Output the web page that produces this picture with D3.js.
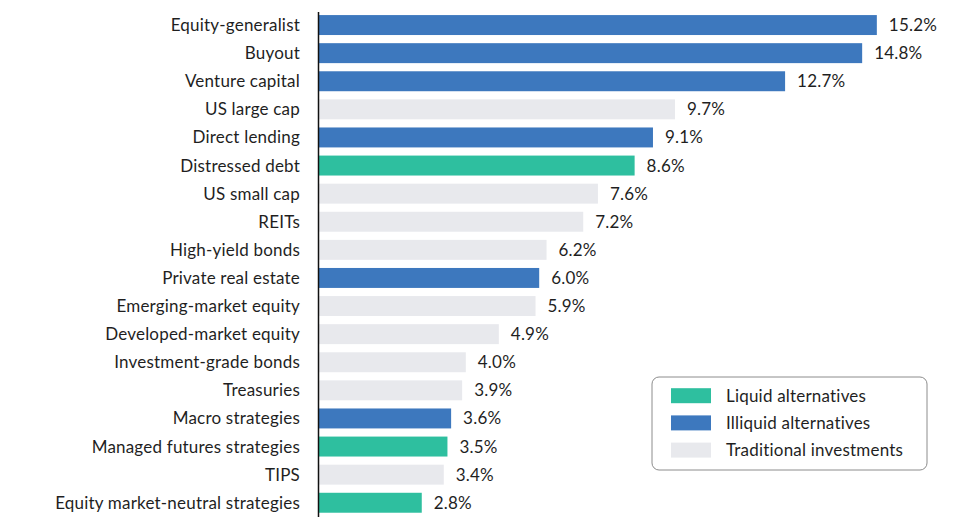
<!DOCTYPE html>
<html>
<head>
<meta charset="utf-8">
<script src="https://cdn.jsdelivr.net/npm/d3@7"></script>
<style>
  body { margin: 0; background: #fff; }
  text { font-family: Lato, "Noto Sans", sans-serif; fill: #1f1f1f; font-size: 17px; letter-spacing: 0.2px; }
</style>
</head>
<body>
<div id="chart"></div>
<script>
// chart data
var categories = ["Equity-generalist", "Buyout", "Venture capital", "US large cap", "Direct lending",
  "Distressed debt", "US small cap", "REITs", "High-yield bonds", "Private real estate",
  "Emerging-market equity", "Developed-market equity", "Investment-grade bonds", "Treasuries",
  "Macro strategies", "Managed futures strategies", "TIPS", "Equity market-neutral strategies"];
var values = [15.2, 14.8, 12.7, 9.7, 9.1, 8.6, 7.6, 7.2, 6.2, 6.0, 5.9, 4.9, 4.0, 3.9, 3.6, 3.5, 3.4, 2.8];
var groups = ["Illiquid", "Illiquid", "Illiquid", "Traditional", "Illiquid", "Liquid", "Traditional",
  "Traditional", "Traditional", "Illiquid", "Traditional", "Traditional", "Traditional",
  "Traditional", "Illiquid", "Liquid", "Traditional", "Liquid"];
var legendKeys = ["Liquid", "Illiquid", "Traditional"];
var legendLabels = ["Liquid alternatives", "Illiquid alternatives", "Traditional investments"];

var width = 975, height = 522;
var x0 = 319;

var svg = d3.select("#chart").append("svg")
    .attr("width", width)
    .attr("height", height);

var color = d3.scaleOrdinal()
    .domain(legendKeys)
    .range(["#2ebf9f", "#3d78be", "#e8e9ed"]);

// 36.7 px per percentage point
var x = d3.scaleLinear().domain([0, 16]).range([x0, x0 + 16 * 36.7]);

var y = d3.scaleBand()
    .domain(categories)
    .range([11, 11 + 28.1 * categories.length])
    .paddingInner(0.29)
    .paddingOuter(0.145);

var rows = svg.selectAll("g.row")
    .data(categories)
    .enter().append("g")
    .attr("class", "row");

rows.append("rect")
    .attr("x", x(0))
    .attr("y", function(d) { return y(d); })
    .attr("width", function(d, i) { return x(values[i]) - x(0); })
    .attr("height", y.bandwidth())
    .attr("fill", function(d, i) { return color(groups[i]); });

rows.append("text")
    .attr("x", 300)
    .attr("y", function(d) { return y(d) + y.bandwidth() / 2; })
    .attr("dy", "0.35em")
    .attr("text-anchor", "end")
    .text(function(d) { return d; });

rows.append("text")
    .attr("x", function(d, i) { return x(values[i]) + 12; })
    .attr("y", function(d) { return y(d) + y.bandwidth() / 2; })
    .attr("dy", "0.35em")
    .text(function(d, i) { return values[i].toFixed(1) + "%"; });

// vertical axis line
svg.append("line")
    .attr("x1", x0 - 0.5).attr("x2", x0 - 0.5)
    .attr("y1", 12).attr("y2", 517)
    .attr("stroke", "#111")
    .attr("stroke-width", 1.5);

// legend
var legend = svg.append("g").attr("transform", "translate(652,377)");
legend.append("rect")
    .attr("width", 275).attr("height", 93)
    .attr("rx", 7)
    .attr("fill", "#fff")
    .attr("stroke", "#8c8c8c")
    .attr("stroke-width", 1);

var items = legend.selectAll("g.item")
    .data(legendKeys)
    .enter().append("g")
    .attr("class", "item")
    .attr("transform", function(d, i) { return "translate(19," + (18.7 + i * 27.2) + ")"; });

items.append("rect")
    .attr("x", 0).attr("y", -7.5)
    .attr("width", 40).attr("height", 15)
    .attr("fill", function(d) { return color(d); });

items.append("text")
    .attr("x", 55)
    .attr("dy", "0.35em")
    .text(function(d, i) { return legendLabels[i]; });
</script>
</body>
</html>
